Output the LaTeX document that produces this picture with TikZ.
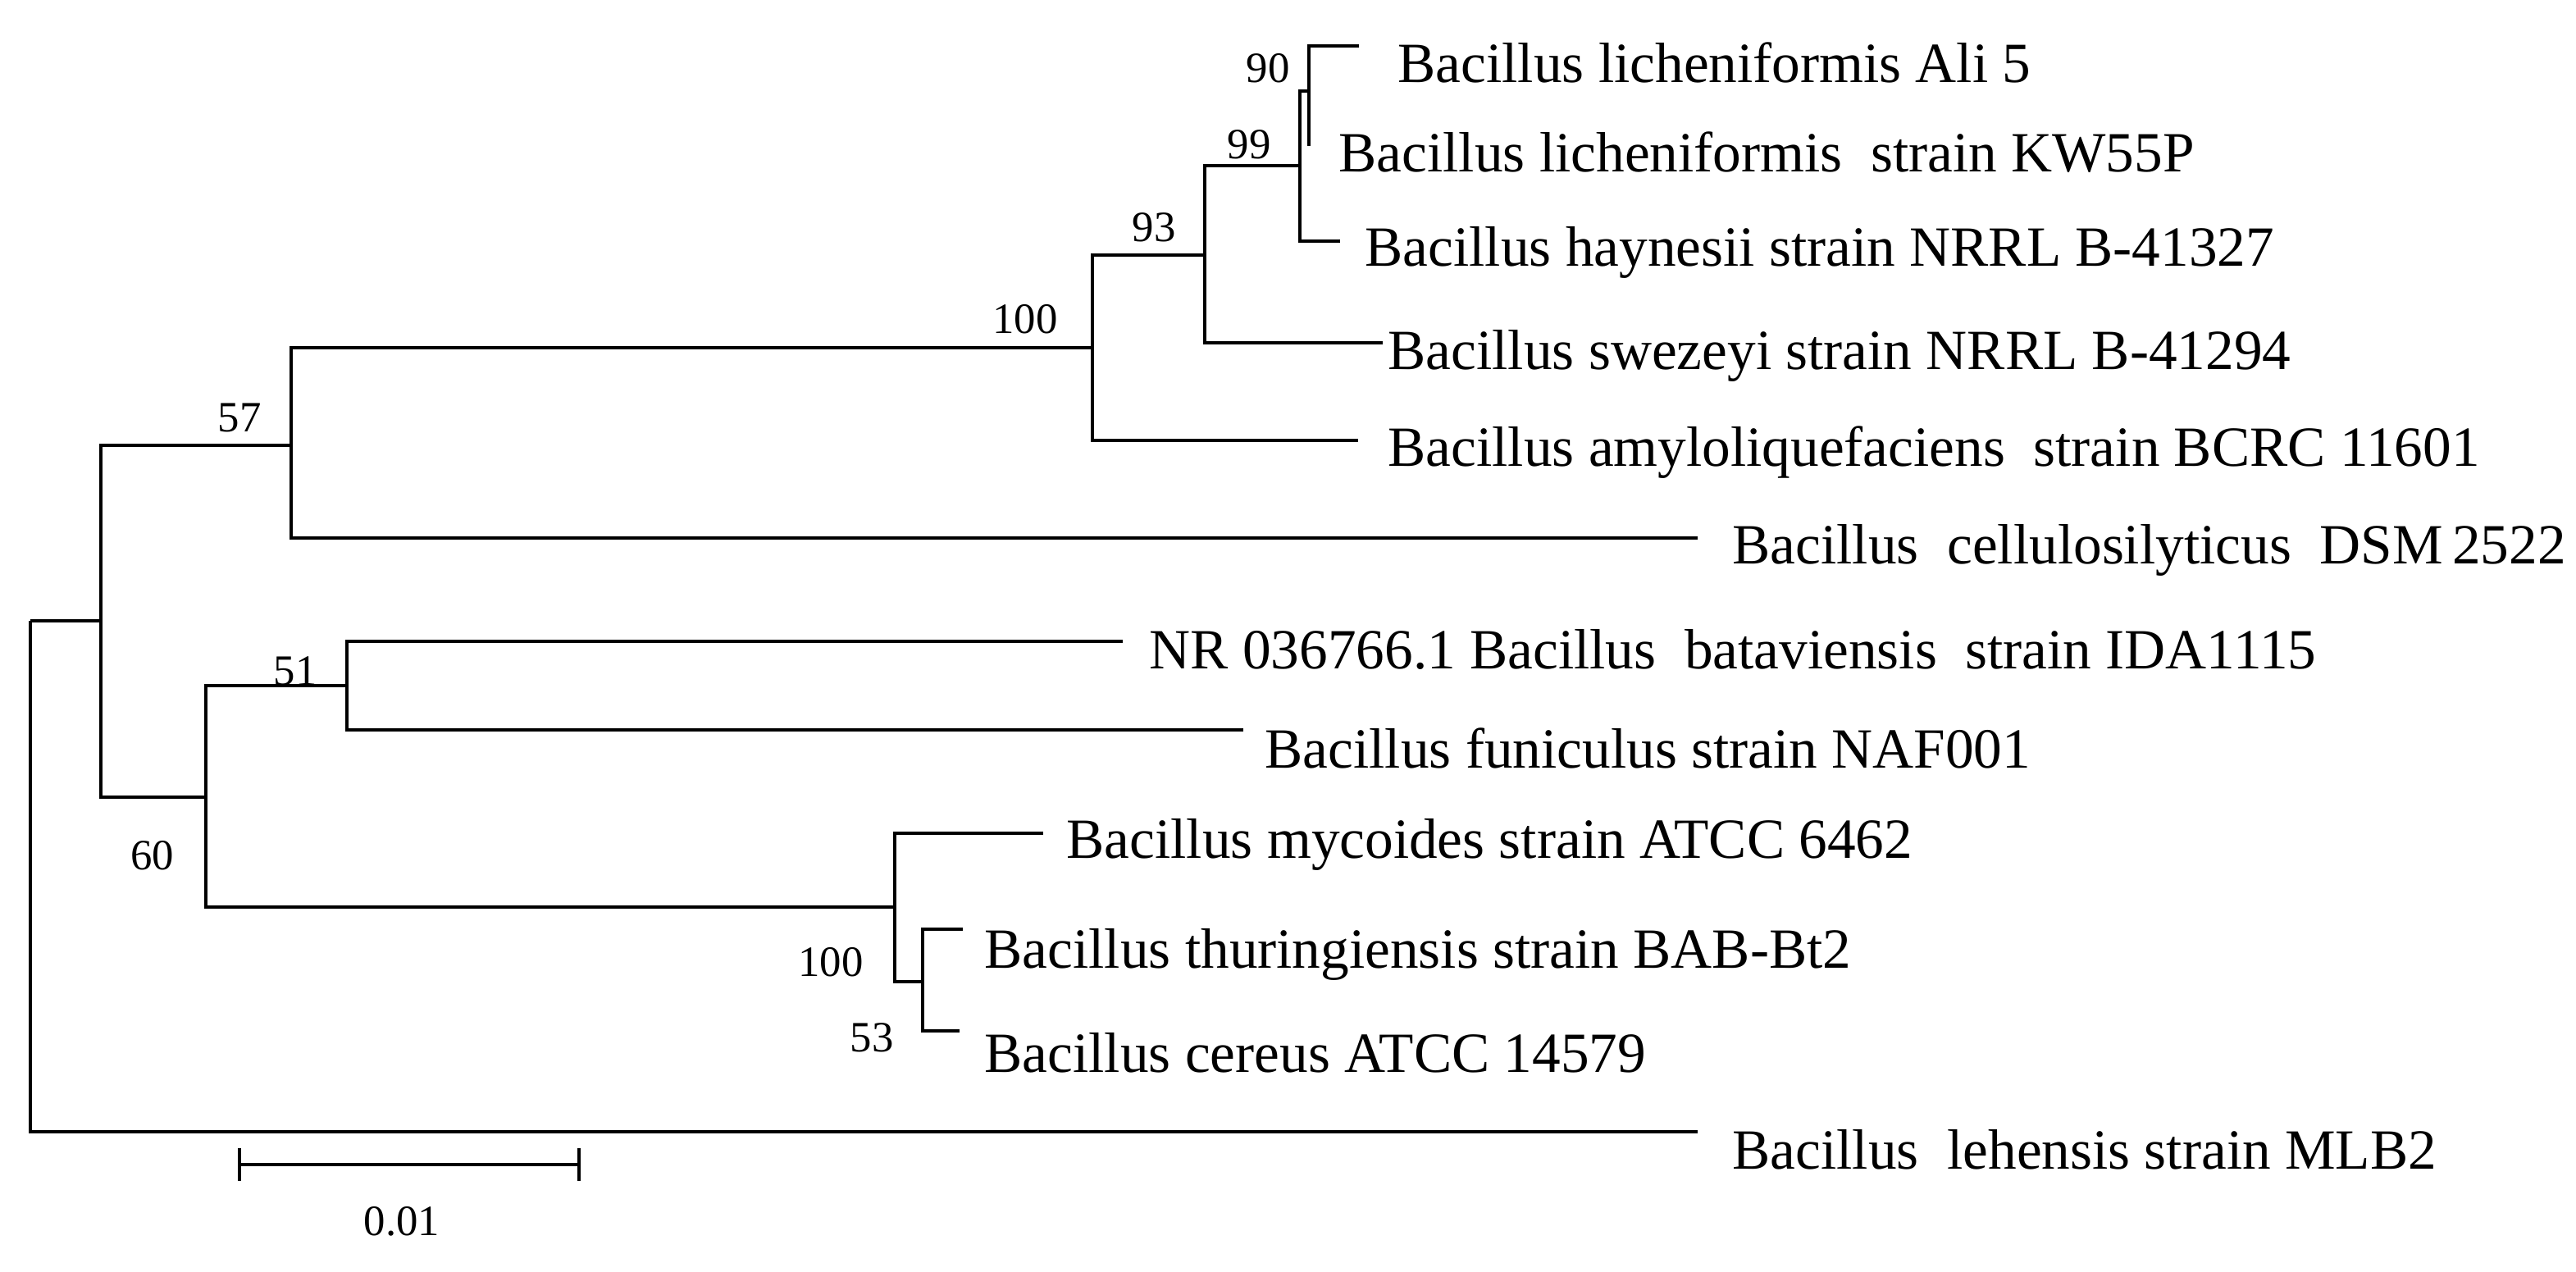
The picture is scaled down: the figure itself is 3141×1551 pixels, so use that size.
\documentclass[tikz,border=0pt]{standalone}
\usepackage{fontspec}
\setmainfont{Liberation Serif}
\begin{document}
\begin{tikzpicture}[x=0.01cm,y=-0.01cm,
  br/.style={line width=1.1pt},
  tax/.style={anchor=west,font=\fontsize{19.7}{22}\selectfont,inner sep=0pt},
  bs/.style={font=\fontsize{15}{17}\selectfont,inner sep=0pt}]
\useasboundingbox (0,0) rectangle (3141,1551);
% internal nodes
\coordinate (r) at (37,757);
\coordinate (nA) at (123,757);
\coordinate (n57) at (355,543);
\coordinate (n100) at (1332,424);
\coordinate (n93) at (1469,311);
\coordinate (n99) at (1585,202);
\coordinate (n90) at (1596,111);
\coordinate (n60) at (251,972);
\coordinate (n51) at (423,836);
\coordinate (n100b) at (1091,1106);
\coordinate (n53) at (1125,1197);
% tips
\coordinate (tAli) at (1657,56);
\coordinate (tKW) at (1596,178);
\coordinate (tHay) at (1634,294);
\coordinate (tSwe) at (1686,418);
\coordinate (tAmy) at (1656,537);
\coordinate (tCel) at (2070,656);
\coordinate (tBat) at (1369,782);
\coordinate (tFun) at (1516,890);
\coordinate (tMyc) at (1272,1016);
\coordinate (tThu) at (1174,1133);
\coordinate (tCer) at (1170,1257);
\coordinate (tLeh) at (2070,1380);
% branches
\draw[br] (r) |- (nA) (r) |- (tLeh);
\draw[br] (nA) |- (n57) (nA) |- (n60);
\draw[br] (n57) |- (n100) (n57) |- (tCel);
\draw[br] (n100) |- (n93) (n100) |- (tAmy);
\draw[br] (n93) |- (n99) (n93) |- (tSwe);
\draw[br] (n99) |- (n90) (n99) |- (tHay);
\draw[br] (n90) |- (tAli) (n90) -- (tKW);
\draw[br] (n60) |- (n51) (n60) |- (n100b);
\draw[br] (n51) |- (tBat) (n51) |- (tFun);
\draw[br] (n100b) |- (tMyc) (n100b) |- (n53);
\draw[br] (n53) |- (tThu) (n53) |- (tCer);
% taxa labels
\node[tax] (lAli) at (1704,76) {Bacillus licheniformis Ali 5};
\node[tax] (lKW) at (1632,186) {Bacillus licheniformis\ \ strain KW55P};
\node[tax] (lHay) at (1664,308) {Bacillus haynesii strain NRRL B-41327};
\node[tax] (lSwe) at (1692,434) {Bacillus swezeyi strain NRRL B-41294};
\node[tax] (lAmy) at (1692,552) {Bacillus amyloliquefaciens\ \ strain BCRC 11601};
\node[tax] (lCel) at (2112,671) {Bacillus\ \ cellulosilyticus\ \ DSM\,2522};
\node[tax] (lBat) at (1401,792) {NR 036766.1 Bacillus\ \ bataviensis\ \ strain IDA1115};
\node[tax] (lFun) at (1542,912) {Bacillus funiculus strain NAF001};
\node[tax] (lMyc) at (1300,1030) {Bacillus mycoides strain ATCC 6462};
\node[tax] (lThu) at (1200,1164) {Bacillus thuringiensis strain BAB-Bt2};
\node[tax] (lCer) at (1200,1284) {Bacillus cereus ATCC 14579};
\node[tax] (lLeh) at (2112,1402) {Bacillus\ \ lehensis strain MLB2};
% bootstrap
\node[bs] (b90) at (1546,83) {90};
\node[bs] (b99) at (1523,176) {99};
\node[bs] (b93) at (1407,277) {93};
\node[bs] (b100) at (1250,389) {100};
\node[bs] (b57) at (292,509) {57};
\node[bs] (b51) at (360,818) {51};
\node[bs] (b60) at (186,1043) {60};
\node[bs] (b100b) at (1013,1173) {100};
\node[bs] (b53) at (1063,1265) {53};
% scale bar
\coordinate (s1) at (292,1420);
\coordinate (s2) at (706,1420);
\draw[br] (s1) -- (s2);
\draw[br] ([yshift=-0.2cm]s1) -- ([yshift=0.2cm]s1);
\draw[br] ([yshift=-0.2cm]s2) -- ([yshift=0.2cm]s2);
\node[bs] (sl) at (490,1489) {0.01};
\end{tikzpicture}
\end{document}
